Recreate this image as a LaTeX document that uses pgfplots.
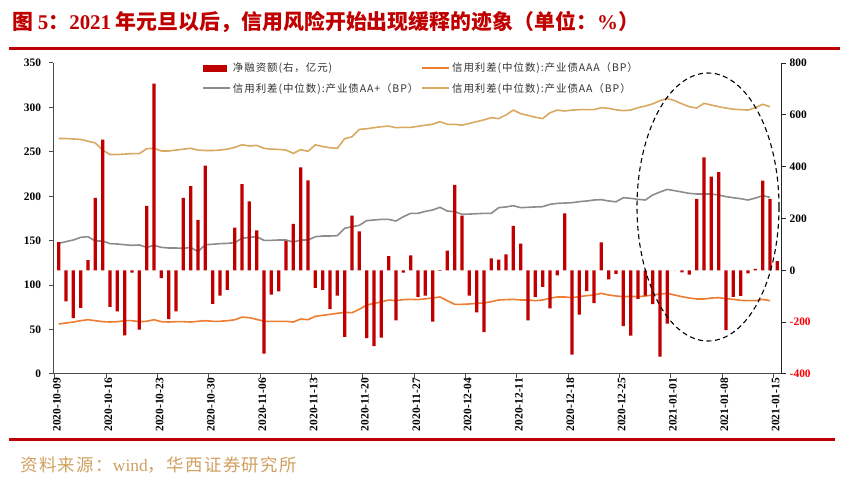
\documentclass[border=0pt]{standalone}
\usepackage{pgfplots}
\pgfplotsset{compat=1.18}
\usepackage{pgfplotstable}
\usepackage{fontspec}
\setmainfont{Liberation Serif}
\newfontfamily\cjk{Noto Sans CJK SC}
\newfontfamily\cjkls{Noto Sans CJK SC}[LetterSpace=8]
\newfontfamily\cjklg{Noto Sans CJK SC}[LetterSpace=9]
\definecolor{barred}{HTML}{C00000}
\definecolor{aaaorange}{HTML}{ED7D31}
\definecolor{aapgray}{HTML}{8C8C8C}
\definecolor{aagold}{HTML}{D9A962}
\definecolor{srcgold}{HTML}{D0A060}
\definecolor{titlered}{HTML}{C00000}
\pgfplotsset{
  mylineleg/.style={legend image code/.code={\draw[##1, line width=1.8bp] (0bp,0bp) -- (27bp,0bp);}},
  barleg/.style={legend image code/.code={\fill[barred] (0bp,-3bp) rectangle (23bp,3bp);}},
}
\pgfplotstableread{
i bar aaa aap aa
0 109 56.3 147 265
1 -120 57.4 149 265
2 -184 58.5 150.8 264.5
3 -145 60 153.8 264
4 39 61.1 154.5 262
5 280 60 149.7 260
6 504 58.9 149.7 252
7 -141 58.5 146.7 247
8 -158 58.9 146.3 247
9 -251 60 145.5 247.5
10 -9 60 144.8 248
11 -229 58.9 145.2 248
12 249 59.3 142.5 253.5
13 720 61.1 144.8 254
14 -30 58.9 142.5 251
15 -188 58.5 141.8 251
16 -158 58.9 141.8 252
17 280 58.9 141.4 253
18 325 58.5 142.5 254
19 195 59.3 137.7 252
20 404 60 145.5 251.5
21 -129 59.3 146 251.5
22 -98 59.3 146.7 252
23 -75 60 147 253
24 165 61 147.8 255
25 333 64 152.7 258
26 266 63.4 153.8 256.6
27 154 61.5 154.5 257.3
28 -321 59.3 150.4 254
29 -94 59.3 150.4 253
30 -81 59.3 150.8 252.8
31 114 59.3 150.8 252
32 179 58.5 148.5 248.3
33 397 61.9 150.8 252.5
34 347 61.1 150.8 250.6
35 -68 64.9 154.5 257.9
36 -75 66 155.3 256
37 -150 67.1 155.3 254.7
38 -98 68.3 155.7 254
39 -257 69.4 164 264.8
40 211 69 165.8 267
41 150 72.8 167.3 275.3
42 -262 77.6 172.6 276
43 -292 79.5 173.3 277.2
44 -260 81 174 278.3
45 55 83.3 174 279
46 -193 82.5 172.2 277.2
47 -9 83.7 177 277.6
48 58 84 180.8 277.6
49 -103 83.7 180.8 278.7
50 -98 84.6 183 280
51 -198 85.5 184.6 281
52 -2 86.7 187.6 284
53 76 82.5 183.4 281
54 330 78.4 182.7 281
55 211 78.4 179.7 280
56 -98 78.8 180 282
57 -162 79.5 180.4 284
58 -238 79.9 180.8 286
59 46 81.4 180.8 288.5
60 41 83.3 187.2 287.4
61 62 83.7 188 291.5
62 172 84 189.4 297
63 103 83.3 187.2 293
64 -193 83.3 187.6 291
65 -103 82.5 188 289
66 -64 83.3 188.3 287.4
67 -147 85.2 191 294
68 -19 86.7 192 297
69 220 86.7 192.4 296
70 -325 85.9 192.8 297
71 -171 87 194 297.5
72 -80 88.2 194.7 297.5
73 -127 88.9 195.8 297.5
74 108 90.8 196.2 299.7
75 -35 88.9 194.7 299
76 -14 87.8 193.8 297.3
77 -215 87 198.4 296.4
78 -252 87.4 197.7 297
79 -110 87 196.6 299.7
80 -98 87.8 195.8 301.6
81 -130 88.9 201.4 304
82 -333 90 204.8 307.6
83 -206 90.8 207.8 310
84 0 88.9 206.3 307.6
85 -8 87 204.8 304
86 -17 85.5 203.3 300.8
87 276 84.4 202.6 299.3
88 436 84.4 202.6 304.6
89 362 85.5 202.6 302.7
90 379 85.9 201.4 300.8
91 -231 84.8 199.6 299.3
92 -102 84 198.4 298
93 -99 82.9 197.3 297.5
94 -12 82.5 195.8 297
95 6 82.5 198 299.7
96 346 84 200.7 303.5
97 276 82.5 198.8 300.8
98 36 nan nan nan
}\datatable
\begin{document}
\begin{tikzpicture}[x=1bp,y=1bp]
\begin{axis}[
  at={(53.3bp,115bp)}, anchor=south west, scale only axis,
  width=728.2bp, height=311bp,
  xmin=-0.23, xmax=99.07, ymin=0, ymax=350,
  axis x line*=bottom, axis y line*=left,
  axis line style={black!70, line width=1bp},
  tick align=outside, major tick length=4bp,
  tick style={black!70, line width=1bp},
  xtick={0,7,...,98},
  xticklabels={2020-10-09,2020-10-16,2020-10-23,2020-10-30,2020-11-06,2020-11-13,2020-11-20,2020-11-27,2020-12-04,2020-12-11,2020-12-18,2020-12-25,2021-01-01,2021-01-08,2021-01-15},
  xticklabel style={rotate=90, anchor=east, inner sep=0pt, yshift=-2bp, font=\bfseries\fontsize{11.5}{12}\selectfont},
  ytick={0,50,100,150,200,250,300,350},
  yticklabels={0,50,100,150,200,250,300,350},
  yticklabel style={inner sep=0pt, xshift=-8bp, font=\bfseries\fontsize{11.5}{12}\selectfont},
  minor tick num=0,
]
\addplot[aaaorange, line width=1.6bp] table[x expr=\thisrow{i}+0.5, y=aaa] {\datatable};
\addplot[aapgray, line width=1.6bp] table[x expr=\thisrow{i}+0.5, y=aap] {\datatable};
\addplot[aagold, line width=1.6bp] table[x expr=\thisrow{i}+0.5, y=aa] {\datatable};
\end{axis}
\begin{axis}[
  at={(53.3bp,115bp)}, anchor=south west, scale only axis,
  width=728.2bp, height=311bp,
  xmin=-0.23, xmax=99.07, ymin=-400, ymax=800,
  axis x line=none, axis y line*=right,
  axis line style={black!85, line width=1bp},
  tick align=outside, major tick length=4bp,
  tick style={black!85, line width=1bp},
  ytick={-400,-200,0,200,400,600,800},
  yticklabels={\textcolor{red}{-400},\textcolor{red}{-200},0,200,400,600,800},
  yticklabel style={inner sep=0pt, xshift=4bp, anchor=west, font=\bfseries\fontsize{11.5}{12}\selectfont},
  legend columns=2,
  legend cell align=left,
  legend style={at={(0.2042,1.008)}, anchor=north west, draw=none, fill=none, inner sep=0pt,
    font=\cjklg\fontsize{10.5}{12}\selectfont, text=black!80, row sep=6bp,
    /tikz/every even column/.append style={column sep=1bp}},
]
\addplot[ybar, bar width=3.3bp, fill=barred, draw=none, forget plot] table[x expr=\thisrow{i}+0.5, y=bar] {\datatable};
\addlegendimage{barleg}
\addlegendentry{净融资额(右，亿元)}
\addlegendimage{mylineleg, aaaorange}
\addlegendentry{信用利差(中位数):产业债AAA（BP）}
\addlegendimage{mylineleg, aapgray}
\addlegendentry{信用利差(中位数):产业债AA+（BP）}
\addlegendimage{mylineleg, aagold}
\addlegendentry{信用利差(中位数):产业债AA（BP）}
\end{axis}
\draw[black, line width=1.1bp, dash pattern=on 5bp off 3.5bp] (708bp,282bp) ellipse [x radius=71bp, y radius=134bp];
\node[anchor=west, text=titlered, inner sep=0pt, font=\cjk\bfseries\fontsize{21}{24}\selectfont] at (12bp,467bp)
  {图 {\rmfamily\bfseries 5}：{\rmfamily\bfseries 2021} 年元旦以后，信用风险开始出现缓释的迹象（单位：{\rmfamily\bfseries \%}）};
\draw[titlered, line width=3bp] (9bp,440bp) -- (840bp,440bp);
\draw[titlered, line width=3bp] (9bp,49bp) -- (835bp,49bp);
\node[anchor=west, text=srcgold, inner sep=0pt, font=\cjkls\fontsize{17.5}{20}\selectfont] at (20bp,24bp)
  {资料来源：{\rmfamily wind}，华西证券研究所};
\path (0bp,0bp) rectangle (849bp,489bp);
\end{tikzpicture}
\end{document}
